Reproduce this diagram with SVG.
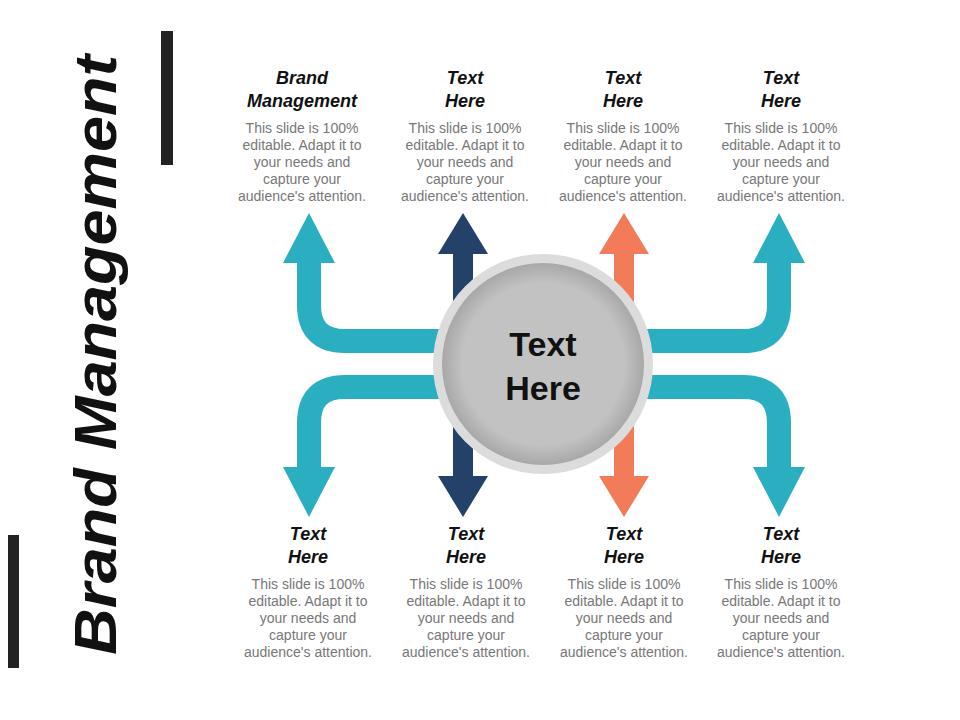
<svg xmlns="http://www.w3.org/2000/svg" width="960" height="720" viewBox="0 0 960 720">
<defs>
<style>
.t{font-family:"Liberation Sans",Arial,sans-serif;font-weight:bold;font-style:italic;font-size:18px;fill:#111;text-anchor:middle}
.b{font-family:"Liberation Sans",Arial,sans-serif;font-size:14px;fill:#777;text-anchor:middle}
.teal{fill:none;stroke:#2aafc0;stroke-width:24}
</style>
<radialGradient id="g" cx="50%" cy="50%" r="50%">
<stop offset="0.8" stop-color="#c2c2c2"/><stop offset="1" stop-color="#a8a8a8"/>
</radialGradient>
</defs>
<rect width="960" height="720" fill="#fff"/>
<rect x="161" y="31" width="12" height="134" fill="#222"/>
<rect x="8" y="535" width="11" height="133" fill="#222"/>
<text transform="translate(116,355) rotate(-90)" font-family="Liberation Sans,Arial,sans-serif" font-weight="bold" font-style="italic" font-size="60" text-anchor="middle" fill="#111" textLength="600" lengthAdjust="spacingAndGlyphs">Brand Management</text>
<g id="connectors">
<path class="teal" d="M460 341 H345 Q309 341 309 305 V255"/>
<polygon fill="#2aafc0" points="283,263 309,213 335,263"/>
<path class="teal" d="M460 387 H345 Q309 387 309 423 V475"/>
<polygon fill="#2aafc0" points="283,467 309,517 335,467"/>
<path class="teal" d="M626 341 H743 Q779 341 779 305 V255"/>
<polygon fill="#2aafc0" points="753,263 779,213 805,263"/>
<path class="teal" d="M626 387 H743 Q779 387 779 423 V475"/>
<polygon fill="#2aafc0" points="753,467 779,517 805,467"/>
<rect x="453" y="250" width="20" height="230" fill="#24416a"/>
<polygon fill="#24416a" points="438,254 463,213 488,254"/>
<polygon fill="#24416a" points="438,476 463,517 488,476"/>
<rect x="614" y="250" width="20" height="230" fill="#f27b5a"/>
<polygon fill="#f27b5a" points="599,254 624,213 649,254"/>
<polygon fill="#f27b5a" points="599,476 624,517 649,476"/>
</g>
<g id="center">
<circle cx="543" cy="364" r="110" fill="#dcdcdc"/>
<circle cx="543" cy="364" r="101" fill="url(#g)"/>
<text x="543" y="356" font-family="Liberation Sans,Arial,sans-serif" font-weight="bold" font-size="34" text-anchor="middle" fill="#111">Text</text>
<text x="543" y="400" font-family="Liberation Sans,Arial,sans-serif" font-weight="bold" font-size="34" text-anchor="middle" fill="#111">Here</text>
</g>
<g id="n1"><text class="t" x="302" y="84">Brand</text><text class="t" x="302" y="107">Management</text>
<text class="b"><tspan x="302" y="133">This slide is 100%</tspan><tspan x="302" y="150">editable. Adapt it to</tspan><tspan x="302" y="167">your needs and</tspan><tspan x="302" y="184">capture your</tspan><tspan x="302" y="201">audience's attention.</tspan></text></g>
<g id="n2"><text class="t" x="465" y="84">Text</text><text class="t" x="465" y="107">Here</text>
<text class="b"><tspan x="465" y="133">This slide is 100%</tspan><tspan x="465" y="150">editable. Adapt it to</tspan><tspan x="465" y="167">your needs and</tspan><tspan x="465" y="184">capture your</tspan><tspan x="465" y="201">audience's attention.</tspan></text></g>
<g id="n3"><text class="t" x="623" y="84">Text</text><text class="t" x="623" y="107">Here</text>
<text class="b"><tspan x="623" y="133">This slide is 100%</tspan><tspan x="623" y="150">editable. Adapt it to</tspan><tspan x="623" y="167">your needs and</tspan><tspan x="623" y="184">capture your</tspan><tspan x="623" y="201">audience's attention.</tspan></text></g>
<g id="n4"><text class="t" x="781" y="84">Text</text><text class="t" x="781" y="107">Here</text>
<text class="b"><tspan x="781" y="133">This slide is 100%</tspan><tspan x="781" y="150">editable. Adapt it to</tspan><tspan x="781" y="167">your needs and</tspan><tspan x="781" y="184">capture your</tspan><tspan x="781" y="201">audience's attention.</tspan></text></g>
<g id="n5"><text class="t" x="308" y="540">Text</text><text class="t" x="308" y="563">Here</text>
<text class="b"><tspan x="308" y="589">This slide is 100%</tspan><tspan x="308" y="606">editable. Adapt it to</tspan><tspan x="308" y="623">your needs and</tspan><tspan x="308" y="640">capture your</tspan><tspan x="308" y="657">audience's attention.</tspan></text></g>
<g id="n6"><text class="t" x="466" y="540">Text</text><text class="t" x="466" y="563">Here</text>
<text class="b"><tspan x="466" y="589">This slide is 100%</tspan><tspan x="466" y="606">editable. Adapt it to</tspan><tspan x="466" y="623">your needs and</tspan><tspan x="466" y="640">capture your</tspan><tspan x="466" y="657">audience's attention.</tspan></text></g>
<g id="n7"><text class="t" x="624" y="540">Text</text><text class="t" x="624" y="563">Here</text>
<text class="b"><tspan x="624" y="589">This slide is 100%</tspan><tspan x="624" y="606">editable. Adapt it to</tspan><tspan x="624" y="623">your needs and</tspan><tspan x="624" y="640">capture your</tspan><tspan x="624" y="657">audience's attention.</tspan></text></g>
<g id="n8"><text class="t" x="781" y="540">Text</text><text class="t" x="781" y="563">Here</text>
<text class="b"><tspan x="781" y="589">This slide is 100%</tspan><tspan x="781" y="606">editable. Adapt it to</tspan><tspan x="781" y="623">your needs and</tspan><tspan x="781" y="640">capture your</tspan><tspan x="781" y="657">audience's attention.</tspan></text></g>
</svg>
